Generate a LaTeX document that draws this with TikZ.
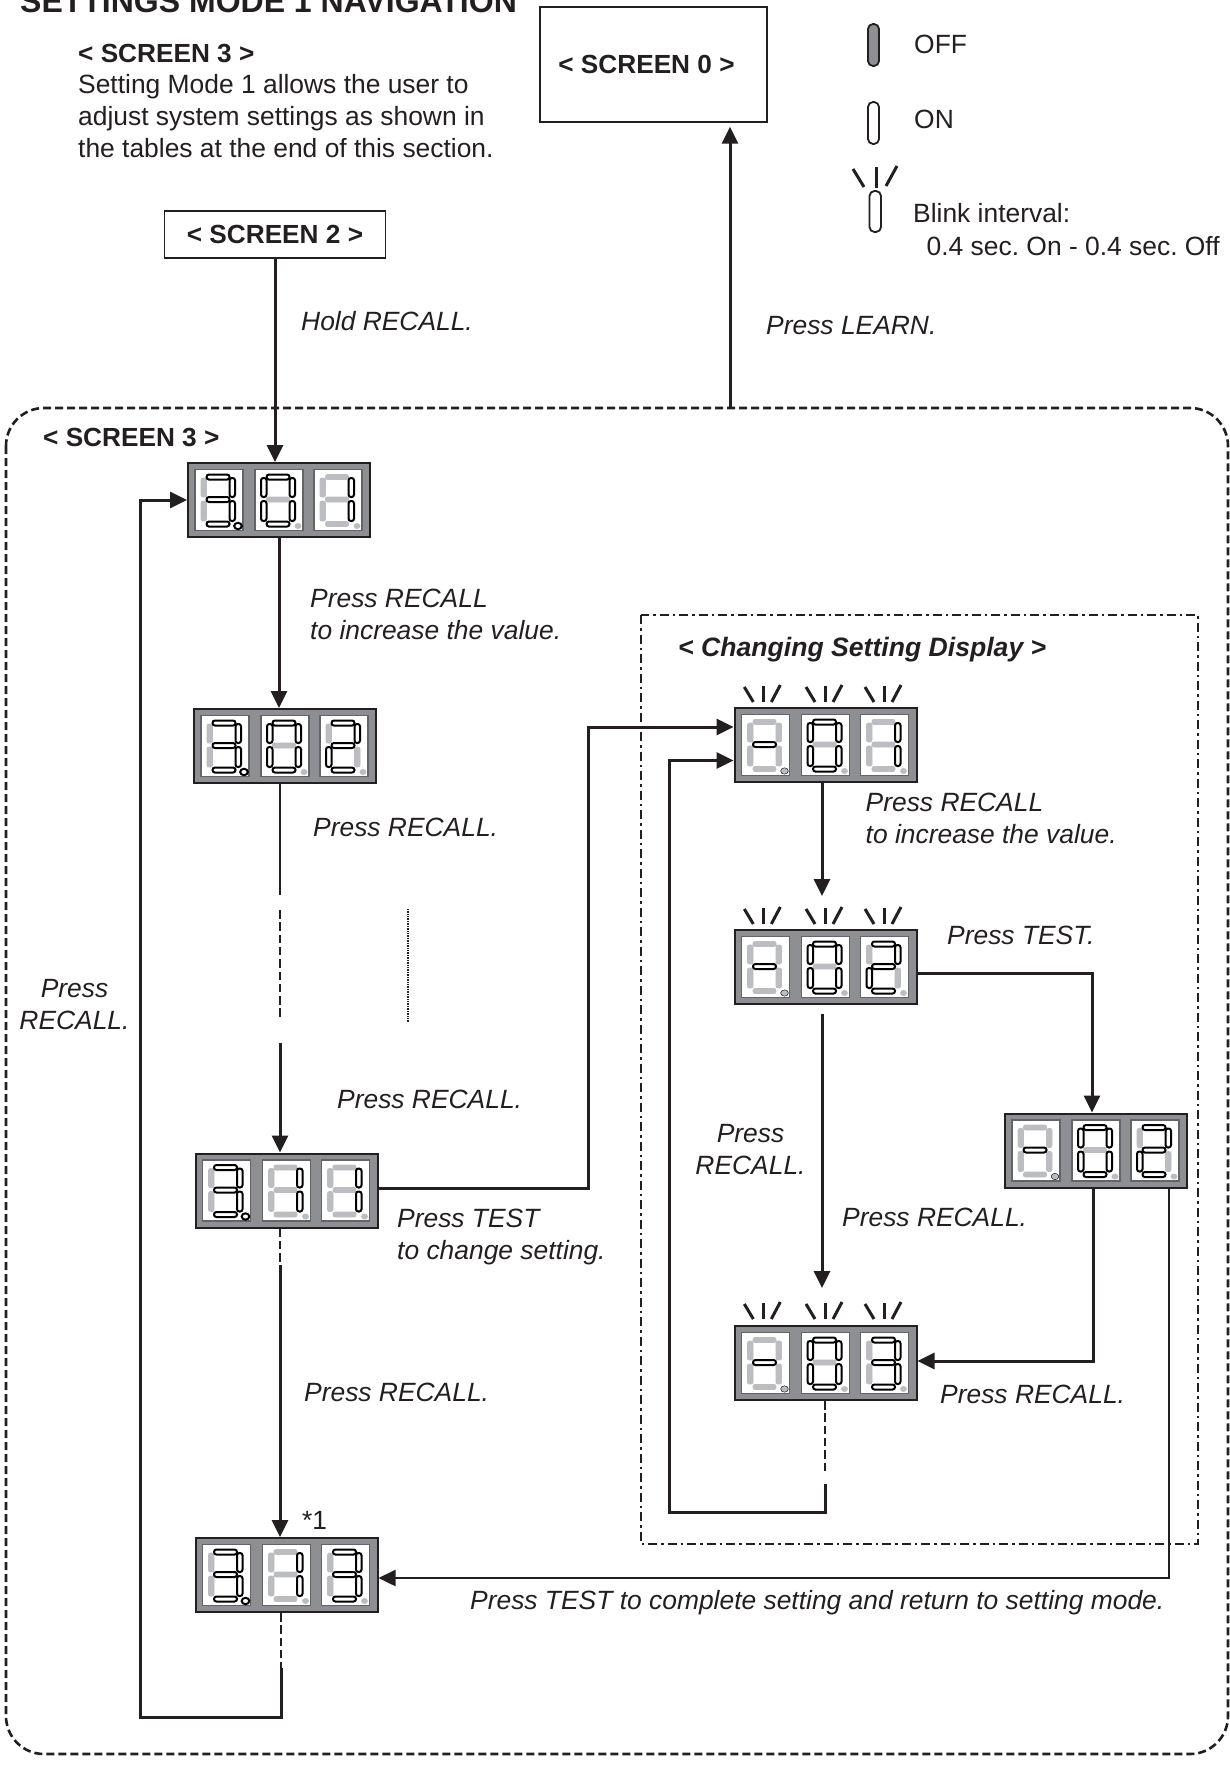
\documentclass[tikz,border=0pt]{standalone}
\usepackage{fontspec}
\usetikzlibrary{arrows.meta}
\setmainfont{Liberation Sans}
\definecolor{inkc}{HTML}{231F20}
\definecolor{panelc}{HTML}{8E8F92}
\definecolor{framec}{HTML}{636466}
\definecolor{segc}{HTML}{BCBDC0}
\tikzset{
  txt/.style={anchor=west, inner sep=0pt, text=inkc, font=\fontsize{26.4}{32}\selectfont, align=left},
  note/.style={txt, font=\fontsize{26.4}{32}\selectfont\itshape},
  head/.style={txt, font=\fontsize{26.2}{32}\selectfont\bfseries},
  scrbox/.style={draw=inkc, line width=1.5pt, inner sep=0pt, text=inkc, font=\fontsize{26.2}{30}\selectfont\bfseries},
  panelbox/.style={draw=inkc, line width=2pt, fill=panelc, inner sep=0pt, minimum width=182pt, minimum height=74pt},
  wire/.style={draw=inkc, line width=3pt},
  arr/.style={wire, -{Triangle[length=17pt,width=16pt]}},
  dashwire/.style={draw=inkc, line width=2.8pt, dash pattern=on 8.5pt off 3.8pt},
  segoff/.style={fill=segc, draw=segc, line width=.8pt, rounded corners=2pt},
  segon/.style={fill=white, draw=black, line width=2pt, rounded corners=2.4pt},
  pill/.style={draw=inkc, line width=1.8pt, rounded corners=5pt},
  ray/.style={draw=inkc, line width=3pt}
}
\newcommand{\segA}[1]{\draw[#1] (-12.5,-25.5) rectangle (10.5,-20.5);}
\newcommand{\segB}[1]{\draw[#1] (10.5,-22) rectangle (16,-3);}
\newcommand{\segC}[1]{\draw[#1] (10.5,1) rectangle (16,21);}
\newcommand{\segD}[1]{\draw[#1] (-12.5,21.5) rectangle (10.5,26.5);}
\newcommand{\segE}[1]{\draw[#1] (-18,1) rectangle (-12.5,21);}
\newcommand{\segF}[1]{\draw[#1] (-18,-22) rectangle (-12.5,-3);}
\newcommand{\segG}[1]{\draw[#1] (-12.5,-3) rectangle (10.5,2);}
\newcommand{\lcddigit}[4]{%
  \begin{scope}[shift={(#1,#2)}]
    \draw[framec, fill=white, line width=1.5pt] (-24,-30.5) rectangle (24,30.5);
    \foreach \s in {A,B,C,D,E,F,G} {\csname seg\s\endcsname{segoff}}
    \foreach \s in #3 {\csname seg\s\endcsname{#4}}
  \end{scope}}
\newcommand{\lcdpanel}[7]{%
  \node[panelbox] (#1) at (#2,#3) {};
  \lcddigit{#2-60}{#3}{#4}{segon}
  \lcddigit{#2}{#3}{#5}{segon}
  \lcddigit{#2+59}{#3}{#6}{segon}
  \fill[segc] (#2+19,#3+26) ellipse (3.4 and 3);
  \fill[segc] (#2+78,#3+26) ellipse (3.4 and 3);
  \draw[#7] (#2-41,#3+26) ellipse (3.8 and 3.2);}
\newcommand{\blinkrays}[2]{%
  \draw[ray] (#1-19,#2) -- (#1-10,#2+15);
  \draw[ray] (#1,#2-1) -- (#1,#2+15);
  \draw[ray] (#1+17,#2-2) -- (#1+8,#2+15);}
\newcommand{\dthree}{A,B,C,D,G}
\newcommand{\dzero}{A,B,C,D,E,F}
\newcommand{\done}{B,C}
\newcommand{\dtwo}{A,B,G,E,D}
\newcommand{\dminus}{G}
\frenchspacing
\begin{document}
\begin{tikzpicture}[x=1pt, y=-1pt]
  \clip (0,0) rectangle (1230,1768);
  \fill[white] (0,0) rectangle (1230,1768);
  \node[head, anchor=base west, font=\fontsize{32}{36}\selectfont\bfseries] (title) at (20,13) {SETTINGS MODE 1 NAVIGATION};
  \node[head] (scr3a) at (78,53.5) {< SCREEN 3 >};
  \node[txt, anchor=north west] (intro) at (78,74) {Setting Mode 1 allows the user to\\adjust system settings as shown in\\the tables at the end of this section.};
  \node[scrbox, minimum width=227pt, minimum height=115pt] (s0) at (653.5,64.5) {< SCREEN 0 >\kern14pt};
  \node[scrbox, minimum width=221pt, minimum height=47pt] (s2) at (275,234.5) {< SCREEN 2 >};
  \draw[pill, fill=panelc] (868,24) rectangle (879,66);
  \draw[pill] (868,102) rectangle (879,144);
  \draw[pill] (869.5,191) rectangle (881,232);
  \draw[ray] (853,169) -- (864,187);
  \draw[ray] (876,167) -- (876,188);
  \draw[ray] (897,166) -- (886,186);
  \node[txt] (off) at (914,44) {OFF};
  \node[txt] (on) at (914,119.5) {ON};
  \node[txt] (blinka) at (913,213) {Blink interval:};
  \node[txt] (blinkb) at (926.5,246) {0.4 sec. On - 0.4 sec. Off};

  \draw[inkc, line width=2.6pt, dash pattern=on 8pt off 4pt, rounded corners=38pt] (6,408) rectangle (1228,1754);
  \draw[inkc, line width=2.2pt, dash pattern=on 9pt off 4pt on 2.5pt off 4pt] (641,615) rectangle (1198,1544);
  \node[head] (scr3b) at (43,437) {< SCREEN 3 >};
  \node[head, font=\fontsize{26.6}{30}\selectfont\bfseries\itshape] (chgdisp) at (678,650) {< Changing Setting Display >};

  \lcdpanel{p1}{279}{500}{\dthree}{\dzero}{\done}{segon}
  \lcdpanel{p2}{285}{746}{\dthree}{\dzero}{\dtwo}{segon}
  \lcdpanel{p3}{286.5}{1190.5}{\dthree}{\done}{\done}{segon}
  \lcdpanel{p4}{286.5}{1575}{\dthree}{\done}{\dthree}{segon}
  \lcdpanel{r1}{825.5}{745}{\dminus}{\dzero}{\done}{fill=segc}
  \lcdpanel{r2}{825.5}{967}{\dminus}{\dzero}{\dtwo}{fill=segc}
  \lcdpanel{r3}{1096}{1150.5}{\dminus}{\dzero}{\dtwo}{fill=segc}
  \lcdpanel{r4}{825.5}{1363}{\dminus}{\dzero}{\dthree}{fill=segc}
  \foreach \c in {763.3,825,884} {
    \blinkrays{\c}{687}
    \blinkrays{\c}{909}
    \blinkrays{\c}{1304}
  }

  \coordinate (learn) at (730,408);
  \coordinate (p2a) at (280,895);
  \coordinate (p2b) at (280,910);
  \coordinate (p2c) at (280,1018);
  \coordinate (p2d) at (280,1043);
  \coordinate (p3a) at (280,1265);
  \coordinate (p4a) at (281,1668);
  \coordinate (p4b) at (281,1717);
  \coordinate (back) at (140,1717);
  \coordinate (elbowa) at (588,1188);
  \coordinate (r1end) at (822,896);
  \coordinate (r2top) at (822,1014);
  \coordinate (r2end) at (822,1288);
  \coordinate (r3a) at (1093,1189);
  \coordinate (r3b) at (1169,1189);
  \coordinate (r4a) at (825,1471);
  \coordinate (r4b) at (825,1484);
  \coordinate (r4c) at (825,1512);
  \coordinate (elbowb) at (669,1512);
  \coordinate (dota) at (408,909);
  \coordinate (dotb) at (408,1022);

  \draw[arr] (s2.south) -- (s2.south |- p1.north);
  \draw[arr] (learn) -- ([yshift=-4pt]s0.south -| learn);
  \draw[arr] (p1.south) -- (p2.north -| p1.south);
  \draw[wire, line width=2.4pt] (p2.south -| p2a) -- (p2a);
  \draw[dashwire] (p2b) -- (p2c);
  \draw[arr] (p2d) -- (p3.north -| p2d);
  \draw[inkc, line width=2.4pt, dash pattern=on 1pt off .7pt] (dota) -- (dotb);
  \draw[dashwire] (p3.south -| p3a) -- (p3a);
  \draw[arr] (p3a) -- (p4.north -| p3a);
  \draw[dashwire] (p4.south -| p4a) -- (p4a);
  \draw[arr] (p4a) -- (p4b) -- (back) |- (p1.west);
  \draw[arr] (p3.east |- elbowa) -- (elbowa) |- ([yshift=18pt]r1.west);
  \draw[arr] (r1.south -| r1end) -- (r1end);
  \draw[arr] (r2top) -- (r2end);
  \draw[arr] ([yshift=-6pt]r2.east) -| (r3.north -| 1092,0);
  \draw[arr] (r3a) |- ([yshift=2pt]r4.east);
  \draw[arr, line width=2.4pt] (r3b) |- ([yshift=-3pt]p4.east);
  \draw[dashwire, line width=2.6pt] (r4.south -| r4a) -- (r4a);
  \draw[arr] (r4b) -- (r4c) -- (elbowb) |- ([yshift=-15.5pt]r1.west);

  \node[note] (hold) at (301,321) {Hold RECALL.};
  \node[note] (plearn) at (766,326) {Press LEARN.};
  \node[note, anchor=north west] (pa) at (310,589) {Press RECALL\\to increase the value.};
  \node[note, anchor=north west] (pb) at (865.5,793) {Press RECALL\\to increase the value.};
  \node[note] (pc) at (313,827) {Press RECALL.};
  \node[note] (pd) at (947,935.5) {Press TEST.};
  \node[note, align=center, anchor=center] (pe) at (74.5,1005) {Press\\RECALL.};
  \node[note, align=center, anchor=center] (pf) at (750.5,1149.5) {Press\\RECALL.};
  \node[note] (pg) at (337,1099) {Press RECALL.};
  \node[note, anchor=north west] (ph) at (397,1209) {Press TEST\\to change setting.};
  \node[note] (pi) at (842,1217) {Press RECALL.};
  \node[note] (pj) at (304,1392) {Press RECALL.};
  \node[note] (pk) at (940,1394) {Press RECALL.};
  \node[txt] (star) at (302,1520) {*1};
  \node[note] (pl) at (470,1603) {Press TEST to complete setting and return to setting mode.};
\end{tikzpicture}
\end{document}
